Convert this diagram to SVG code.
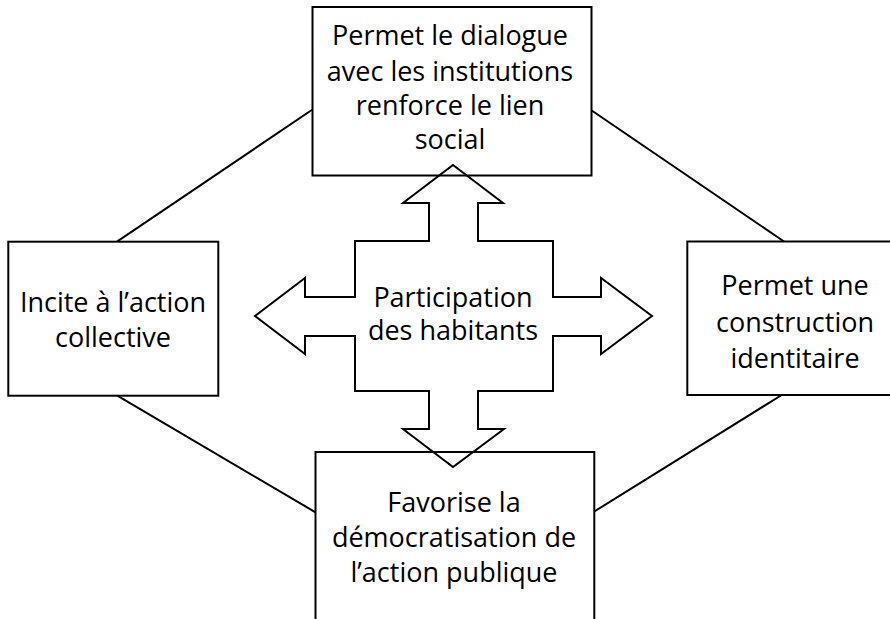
<svg xmlns="http://www.w3.org/2000/svg" width="890" height="619" viewBox="0 0 890 619">
<style>
.box{fill:#fff;stroke:#000;stroke-width:2}
.ln{fill:none;stroke:#000;stroke-width:2}
text{font-family:"Open Sans","Noto Sans","Liberation Sans",sans-serif;font-size:27px;fill:#000;text-anchor:middle}
</style>
<rect width="890" height="619" fill="#fff"/>
<g id="connectors">
<line class="ln" x1="312.5" y1="109.5" x2="117" y2="241.7"/>
<line class="ln" x1="591.7" y1="110.5" x2="784" y2="241.5"/>
<line class="ln" x1="117.3" y1="395.7" x2="315.5" y2="512.3"/>
<line class="ln" x1="781.7" y1="395" x2="594.3" y2="511.5"/>
</g>
<g id="node-top">
<rect class="box" x="312.5" y="7" width="279" height="168.5"/>
<text x="450" y="45">Permet le dialogue</text>
<text x="450" y="81">avec les institutions</text>
<text x="450" y="115">renforce le lien</text>
<text x="450" y="149">social</text>
</g>
<g id="node-left">
<rect class="box" x="8.3" y="241.7" width="210" height="154"/>
<text x="113" y="311.7">Incite à l’action</text>
<text x="113" y="346.7">collective</text>
</g>
<g id="node-right">
<path class="box" d="M892,241.5 H687.3 V395 H892"/>
<text x="795" y="295">Permet une</text>
<text x="795" y="331.7">construction</text>
<text x="795" y="368">identitaire</text>
</g>
<g id="node-bottom">
<path class="box" d="M315.5,622 V452 H594.3 V622"/>
<text x="454" y="511.7">Favorise la</text>
<text x="454" y="546.7">démocratisation de</text>
<text x="454" y="581.7">l’action publique</text>
</g>
<g id="node-center">
<polygon class="ln" points="453,165 503,203 478,203 478,241 553,241 553,297 601,297 601,278 652,316 601,354 601,336 553,336 553,391 478,391 478,429 504,429 453,467 403,429 429,429 429,391 355,391 355,336 305,336 305,354 255,316 305,278 305,297 355,297 355,241 429,241 429,203 403,203"/>
<text x="453" y="306.7">Participation</text>
<text x="453" y="340">des habitants</text>
</g>
</svg>
